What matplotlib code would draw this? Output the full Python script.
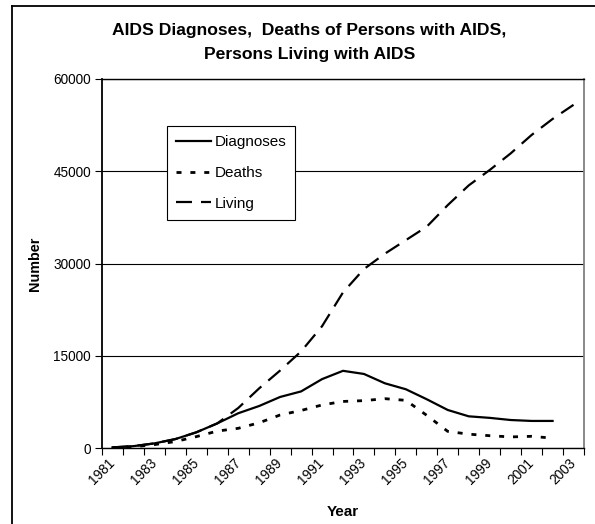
import matplotlib.pyplot as plt
from matplotlib.lines import Line2D

plt.rcParams['font.family'] = ['Liberation Sans', 'DejaVu Sans']
plt.rcParams['lines.scale_dashes'] = False

years = list(range(1981, 2004))
diagnoses = [100, 300, 750, 1450, 2550, 4000, 5650, 6830, 8300, 9200, 11200,
             12550, 12040, 10520, 9550, 7920, 6180, 5150, 4900, 4550, 4400, 4400]
deaths = [50, 200, 550, 1050, 1850, 2750, 3200, 4100, 5370, 6100, 7000,
          7570, 7700, 8020, 7750, 5300, 2700, 2250, 2000, 1800, 1900, 1600]
living = [100, 300, 750, 1450, 2550, 4000, 6500, 9700, 12600, 15700, 19800,
          25300, 29100, 31600, 33800, 36000, 39500, 42700, 45200, 47900,
          50900, 53500, 55800]
y_ticks = [0, 15000, 30000, 45000, 60000]

W, H = 595, 524
fig = plt.figure(figsize=(W / 100, H / 100), dpi=100)

# plot area in pixels: left 102, right 584, top 79, bottom 448
ax = fig.add_axes([102 / W, 1 - 448 / H, 482 / W, (448 - 79) / H])

x_d = list(range(len(diagnoses)))
x_de = list(range(len(deaths)))
x_l = list(range(len(living)))

ax.plot(x_d, diagnoses, color='black', lw=1.6, label='Diagnoses',
        solid_joinstyle='round')
ax.plot(x_de, deaths, color='black', lw=2.0, dashes=(3.6, 6.4), label='Deaths',
        dash_capstyle='butt')
ax.plot(x_l, living, color='black', lw=1.6, dashes=(11.5, 6.5), label='Living',
        dash_capstyle='butt')

ax.set_xlim(-0.5, len(years) - 0.5)
ax.set_ylim(0, 60000)

ax.set_yticks(y_ticks)
ax.set_yticklabels([str(v) for v in y_ticks], fontsize=9.8)
ax.yaxis.grid(True, color='black', lw=0.8)
ax.set_axisbelow(True)

# category boundary tick marks, labels every other year at centres
ax.set_xticks([i - 0.5 for i in range(len(years) + 1)], minor=True)
ax.set_xticks(list(range(0, len(years), 2)))
ax.set_xticklabels([str(y) for y in years[::2]], rotation=45, ha='right',
                   va='center', rotation_mode='anchor', fontsize=9.8)
ax.tick_params(axis='x', which='major', length=0, pad=9)
ax.tick_params(axis='x', which='minor', length=5, width=0.8, direction='out')
ax.tick_params(axis='y', length=5, width=0.8, direction='out', pad=3)

for s in ['left', 'bottom', 'top']:
    ax.spines[s].set_color('black')
    ax.spines[s].set_linewidth(1.0)
ax.spines['left'].set_linewidth(1.3)
ax.spines['right'].set_color('#808080')
ax.spines['right'].set_linewidth(1.3)

ax.set_ylabel('Number', fontsize=10.4, fontweight='bold', labelpad=8)
ax.set_xlabel('Year', fontsize=11, fontweight='bold', labelpad=13)

fig.text(309 / W, 1 - 31 / H, 'AIDS Diagnoses,  Deaths of Persons with AIDS,',
         ha='center', va='center', fontsize=12.6, fontweight='bold')
fig.text(310 / W, 1 - 55 / H, 'Persons Living with AIDS',
         ha='center', va='center', fontsize=12.6, fontweight='bold')

leg = ax.legend(loc='upper left', bbox_to_anchor=(167 / W, 1 - 126 / H),
                bbox_transform=fig.transFigure, borderaxespad=0, fancybox=False,
                framealpha=1, edgecolor='black', fontsize=11, handlelength=2.3,
                handletextpad=0.2, labelspacing=1.1, borderpad=0.6)
leg.get_frame().set_linewidth(0.8)

# outer chart border (left and top edges visible)
fig.add_artist(Line2D([12 / W, 12 / W], [0, 1 - 6 / H], transform=fig.transFigure,
                      color='black', lw=1.3))
fig.add_artist(Line2D([12 / W, 1], [1 - 6 / H, 1 - 6 / H], transform=fig.transFigure,
                      color='black', lw=1.3))

fig.savefig('out.png', dpi=100)
